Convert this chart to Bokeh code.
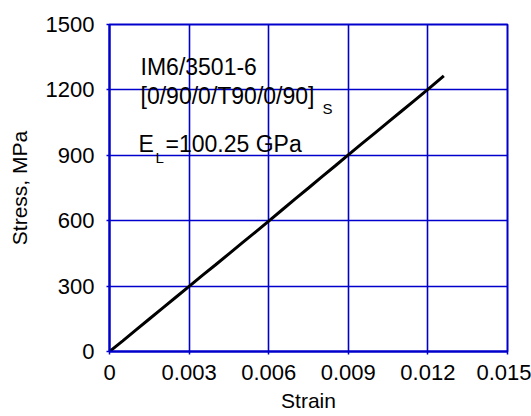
from bokeh.plotting import figure
from bokeh.models import Range1d, FixedTicker, Label
from bokeh.embed import file_html
from bokeh.resources import INLINE

# data
strain = [0.0, 0.0005, 0.001, 0.0015, 0.002, 0.0025, 0.003, 0.0035, 0.004, 0.0045,
          0.005, 0.0055, 0.006, 0.0065, 0.007, 0.0075, 0.008, 0.0085, 0.009, 0.0095,
          0.010, 0.0105, 0.011, 0.0115, 0.012, 0.0126]
stress = [0, 49, 99, 149, 199, 249, 299, 349, 398, 448,
          498, 548, 598, 649, 700, 750, 801, 851, 902, 952,
          1002, 1052, 1102, 1152, 1202, 1264]

x_ticks = [0, 0.003, 0.006, 0.009, 0.012, 0.015]
x_tick_labels = ["0", "0.003", "0.006", "0.009", "0.012", "0.015"]
y_ticks = [0, 300, 600, 900, 1200, 1500]
y_tick_labels = ["0", "300", "600", "900", "1200", "1500"]

FONT = "Liberation Sans"
BLUE = "#0000cc"

p = figure(width=531, height=416, output_backend="svg", toolbar_location=None,
           x_range=Range1d(0, 0.015), y_range=Range1d(0, 1500),
           min_border_left=109, min_border_right=24, min_border_top=24,
           min_border_bottom=65)

p.outline_line_color = BLUE
p.outline_line_width = 2
p.background_fill_color = "white"

for ax in (p.xaxis[0], p.yaxis[0]):
    ax.axis_line_color = BLUE
    ax.axis_line_width = 2
    ax.major_tick_line_color = BLUE
    ax.major_tick_line_width = 1.5
    ax.major_tick_in = 0
    ax.major_tick_out = 3
    ax.minor_tick_line_color = None
    ax.major_label_text_font = FONT
    ax.major_label_text_font_size = "22px"
    ax.major_label_text_color = "black"
    ax.axis_label_text_font = FONT
    ax.axis_label_text_font_size = "21px"
    ax.axis_label_text_font_style = "normal"
    ax.axis_label_text_color = "black"

p.xaxis.ticker = FixedTicker(ticks=x_ticks)
p.yaxis.ticker = FixedTicker(ticks=y_ticks)
p.xaxis.major_label_overrides = {t: l for t, l in zip(x_ticks, x_tick_labels)}
p.yaxis.major_label_overrides = {t: l for t, l in zip(y_ticks, y_tick_labels)}
p.xaxis.major_label_standoff = 10
p.yaxis.major_label_standoff = 12
p.xaxis.axis_label = "Strain"
p.yaxis.axis_label = "Stress, MPa"
p.xaxis.axis_label_standoff = 6
p.yaxis.axis_label_standoff = 12

p.xgrid.grid_line_color = BLUE
p.ygrid.grid_line_color = BLUE
p.xgrid.grid_line_width = 1.6
p.ygrid.grid_line_width = 1.6

p.line(strain, stress, line_color="black", line_width=3)

def lab(x, y, text, size):
    p.add_layout(Label(x=x, y=y, text=text, text_font=FONT, text_font_size=size,
                       text_color="black", text_baseline="alphabetic",
                       text_align="left"))

lab(0.00117, 1307, "IM6/3501-6", "23px")
lab(0.00117, 1172, "[0/90/0/T90/0/90]", "23px")
lab(0.00803, 1115, "S", "15px")
lab(0.00109, 954, "E", "23px")
lab(0.00173, 890, "L", "15px")
lab(0.00211, 954, "=100.25 GPa", "23px")

open("out.html", "w").write(file_html(p, INLINE))
